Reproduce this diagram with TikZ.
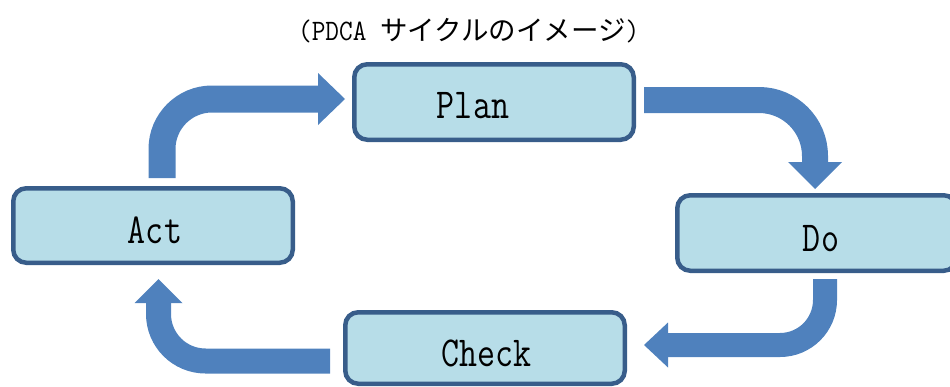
\documentclass[tikz,border=0pt]{standalone}
\usepackage{fontspec}
\usetikzlibrary{calc}
\newfontfamily\jpfont{Noto Sans CJK JP}
\definecolor{arrowblue}{HTML}{4F81BD}
\definecolor{boxedge}{HTML}{385D8A}
\definecolor{boxfill}{HTML}{B7DDE8}
% narrow, tall typewriter text
\newcommand\talltt[2]{\scalebox{1}[#1]{\ttfamily #2}}

\begin{document}
\begin{tikzpicture}[x=1pt,y=-1pt,
  stagebox/.style={draw=boxedge, fill=boxfill, line width=4.5pt,
    rounded corners=13pt, minimum width=279.5pt, inner sep=0pt},
  stagelabel/.style={inner sep=0pt, anchor=base,
    font=\fontsize{35}{35}\selectfont},
  cycleshaft/.style={draw=arrowblue, line cap=butt},
  cyclehead/.style={fill=arrowblue}]
\useasboundingbox (0,0) rectangle (950,386);

% title
\node[anchor=base west, inner sep=0pt, font=\fontsize{26.5}{27}\selectfont]
  (title) at (298,40)
  {\talltt{1.12}{(PDCA\ }{\jpfont\fontsize{27.5}{28}\selectfont サイクルのイメージ}\talltt{1.12}{)}};

% the four stages
\node[stagebox, minimum height=75.5pt] (plan)  at (494,102)   {};
\node[stagebox, minimum height=74.5pt] (act)   at (153,225.5) {};
\node[stagebox, minimum height=75.5pt] (do)    at (817,233)   {};
\node[stagebox, minimum height=71.5pt] (check) at (485,348)   {};

\node[stagelabel] (planlbl)  at ($(plan.center)+(-21,16)$)  {\talltt{1.22}{Plan}};
\node[stagelabel] (actlbl)   at ($(act.center)+(2,17.5)$)   {\talltt{1.22}{Act}};
\node[stagelabel] (dolbl)    at ($(do.center)+(4,18)$)      {\talltt{1.22}{Do}};
\node[stagelabel] (checklbl) at ($(check.center)+(1.5,18)$) {\talltt{1.22}{Check}};

% Act -> Plan
\draw[cycleshaft, line width=27pt, rounded corners=50pt]
  (162,178) -- (162,99) -- (319,99);
\fill[cyclehead] (318,73) -- (345,99) -- (318,125) -- cycle;

% Plan -> Do
\draw[cycleshaft, line width=26pt, rounded corners=56pt]
  (644,100) -- (815,100) -- (815,163);
\fill[cyclehead] (788,162) -- (815,189) -- (842,162) -- cycle;

% Do -> Check
\draw[cycleshaft, line width=24pt, rounded corners=45pt]
  (825,279) -- (825,345) -- (667,345);
\fill[cyclehead] (668,322.5) -- (644,345) -- (668,367.5) -- cycle;

% Check -> Act
\draw[cycleshaft, line width=25pt, rounded corners=47pt]
  (330,361) -- (158.5,361) -- (158.5,302);
\fill[cyclehead] (134.5,303) -- (158.5,279) -- (182.5,303) -- cycle;
\end{tikzpicture}
\end{document}
